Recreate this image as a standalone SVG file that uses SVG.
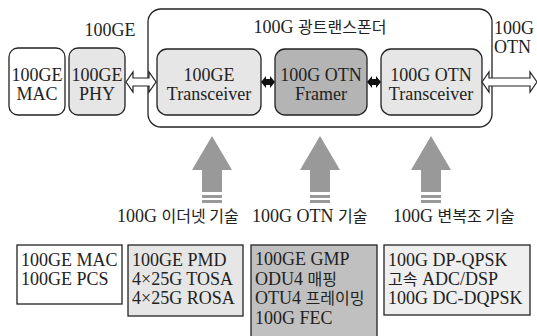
<svg xmlns="http://www.w3.org/2000/svg" width="537" height="336" viewBox="0 0 537 336">
<style>
text{font-family:'Liberation Serif','Times New Roman','DejaVu Serif','Noto Sans CJK KR',serif;font-size:18px;fill:#222}
.c{text-anchor:middle}
.k{font-size:16px;font-family:'Noto Sans CJK KR',sans-serif}
.node{stroke:#222;stroke-width:1.3}
.box{stroke:#222;stroke-width:1.3}
.hollow{fill:#fff;stroke:#222;stroke-width:1.2;stroke-linejoin:miter}
.solid{fill:#111}
.up{fill:#999}
</style>
<rect width="537" height="336" fill="#fff"/>

<g id="transponder">
<rect x="148" y="9" width="344" height="118" rx="13" fill="#fff" stroke="#222" stroke-width="1.3"/>
<text class="c" x="320" y="33">100G <tspan class="k">광트랜스폰더</tspan></text>
</g>

<g id="label-100ge"><text class="c" x="110" y="36">100GE</text></g>
<g id="label-otn"><text x="494" y="34">100G</text><text x="494" y="53">OTN</text></g>

<g id="mac">
<rect class="node" x="9" y="48" width="56" height="67" rx="9" fill="#fff"/>
<text class="c" x="37" y="81">100GE</text><text class="c" x="37" y="100">MAC</text>
</g>
<g id="phy">
<rect class="node" x="69" y="48" width="56" height="67" rx="9" fill="#e6e6e6"/>
<text class="c" x="97" y="81">100GE</text><text class="c" x="97" y="100">PHY</text>
</g>
<g id="ge-transceiver">
<rect class="node" x="157" y="49" width="104" height="66" rx="10" fill="#e6e6e6"/>
<text class="c" x="209" y="81">100GE</text><text class="c" x="209" y="100">Transceiver</text>
</g>
<g id="framer">
<rect class="node" x="275" y="49" width="92" height="66" rx="10" fill="#b4b4b4"/>
<text class="c" x="321" y="81">100G OTN</text><text class="c" x="321" y="100">Framer</text>
</g>
<g id="otn-transceiver">
<rect class="node" x="381" y="49" width="101" height="66" rx="10" fill="#e6e6e6"/>
<text class="c" x="431" y="81">100G OTN</text><text class="c" x="431" y="100">Transceiver</text>
</g>

<g id="connectors">
<polygon class="hollow" points="126,82 133,72 133,78 149,78 149,72 156,82 149,92 149,86 133,86 133,92"/>
<polygon class="solid" points="261,82 266,76 266,79 270,79 270,76 275,82 270,88 270,85 266,85 266,88"/>
<polygon class="solid" points="367,82 372,76 372,79 376,79 376,76 381,82 376,88 376,85 372,85 372,88"/>
<polygon class="hollow" points="482,82 489,72 489,78 530,78 530,72 537,82 530,92 530,86 489,86 489,92"/>
</g>

<g id="arrow-ethernet">
<polygon class="up" points="212,136 232,170 222,170 222,192 202,192 202,170 192,170"/>
<rect class="up" x="202" y="195" width="20" height="3"/><rect class="up" x="202" y="200" width="20" height="3"/>
<text x="117" y="222">100G <tspan class="k">이더넷 기술</tspan></text>
</g>
<g id="arrow-otn">
<polygon class="up" points="320,136 340,170 330,170 330,192 310,192 310,170 300,170"/>
<rect class="up" x="310" y="195" width="20" height="3"/><rect class="up" x="310" y="200" width="20" height="3"/>
<text x="252" y="222">100G OTN <tspan class="k">기술</tspan></text>
</g>
<g id="arrow-modem">
<polygon class="up" points="431,136 451,170 441,170 441,192 421,192 421,170 411,170"/>
<rect class="up" x="421" y="195" width="20" height="3"/><rect class="up" x="421" y="200" width="20" height="3"/>
<text x="393" y="222">100G <tspan class="k">변복조 기술</tspan></text>
</g>

<g id="box-ethernet-mac">
<rect class="box" x="17" y="245" width="105" height="59" fill="#fff"/>
<text x="21" y="266">100GE MAC</text><text x="21" y="285">100GE PCS</text>
</g>
<g id="box-ethernet-phy">
<rect class="box" x="128" y="245" width="115" height="71" fill="#e6e6e6"/>
<text x="132" y="266">100GE PMD</text><text x="132" y="285">4×25G TOSA</text><text x="132" y="304">4×25G ROSA</text>
</g>
<g id="box-otn">
<rect class="box" x="251" y="245" width="126" height="100" fill="#c0c0c0"/>
<text x="255" y="265">100GE GMP</text>
<text x="255" y="285">ODU4 <tspan class="k">매핑</tspan></text>
<text x="255" y="304">OTU4 <tspan class="k">프레이밍</tspan></text>
<text x="255" y="324">100G FEC</text>
</g>
<g id="box-modem">
<rect class="box" x="384" y="245" width="146" height="70" fill="#efefef"/>
<text x="388" y="266">100G DP-QPSK</text>
<text x="388" y="285"><tspan class="k">고속</tspan> ADC/DSP</text>
<text x="388" y="304">100G DC-DQPSK</text>
</g>
</svg>
